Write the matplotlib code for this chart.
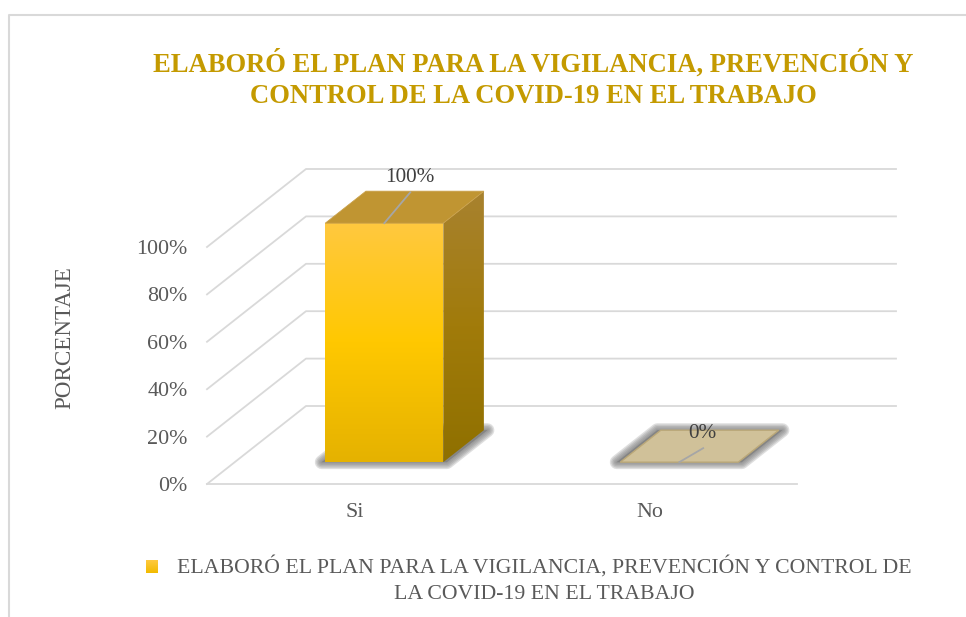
import numpy as np
import matplotlib
matplotlib.use("Agg")
from matplotlib import pyplot as plt
from matplotlib.colors import LinearSegmentedColormap
from matplotlib.patches import Polygon

categories = ["Si", "No"]
values = [100, 0]
y_ticks = [0, 20, 40, 60, 80, 100]
y_tick_labels = ["0%", "20%", "40%", "60%", "80%", "100%"]
title = "ELABORÓ EL PLAN PARA LA VIGILANCIA, PREVENCIÓN Y\nCONTROL DE LA COVID-19 EN EL TRABAJO"
legend_label = "ELABORÓ EL PLAN PARA LA VIGILANCIA, PREVENCIÓN Y CONTROL DE\nLA COVID-19 EN EL TRABAJO"
y_label = "PORCENTAJE"

W, H = 966, 617
SERIF = "Liberation Serif"
GREY = "#595959"

plt.rcParams["font.family"] = SERIF

fig = plt.figure(figsize=(W / 100, H / 100), dpi=100)

# the axes is the front plane of the 3d box, depth goes up and to the right
ax = fig.add_axes([207 / W, 1 - 484 / H, 590 / W, 237 / H])
ax.set_xlim(-0.5, 1.5)
ax.set_ylim(0, 100)
ax.set_autoscale_on(False)
ax.patch.set_visible(False)
for s in ax.spines.values():
    s.set_visible(False)

DX = 99 / 295
DY = 78 / 2.37
BAR_W = 0.4
BAR_SHIFT = 0.007
BAR_SCALE = 239 / 237
D0, D1 = 0.28, 0.69


def proj(x, y, d):
    return x + d * DX, y + d * DY


def gradient(poly, colors, z):
    xs = [p[0] for p in poly]
    ys = [p[1] for p in poly]
    cmap = LinearSegmentedColormap.from_list("g", colors)
    im = ax.imshow(np.linspace(0, 1, 256).reshape(-1, 1), cmap=cmap, aspect="auto",
                   origin="upper", extent=(min(xs), max(xs), min(ys), max(ys)), zorder=z)
    clip = Polygon(poly, closed=True, transform=ax.transData)
    im.set_clip_box(fig.bbox)
    im.set_clip_path(clip)


def floor_quad(x, pad=0.0):
    left, right = x - BAR_W / 2 - pad, x + BAR_W / 2 + pad
    return [proj(left, 0, D0), proj(right, 0, D0), proj(right, 0, D1), proj(left, 0, D1)]


# grid
for v in y_ticks:
    a, b, c = proj(-0.5, v, 0), proj(-0.5, v, 1), proj(1.5, v, 1)
    ax.plot([a[0], b[0], c[0]], [a[1], b[1], c[1]], color="#D9D9D9", lw=1.3,
            clip_on=False, zorder=1)
ax.plot([-0.5, 1.5], [0, 0], color="#D9D9D9", lw=1.3, clip_on=False, zorder=1)

for i, (cat, val) in enumerate(zip(categories, values)):
    cx = i + BAR_SHIFT
    # soft shadow on the floor
    for lw in [10, 8, 6, 4, 2]:
        ax.add_patch(Polygon(floor_quad(cx, 0.012), closed=True, fc="#7F7F7F", ec="#7F7F7F",
                             lw=lw, alpha=0.25, joinstyle="round", clip_on=False, zorder=2))
    l, r = cx - BAR_W / 2, cx + BAR_W / 2
    h = val * BAR_SCALE
    if val > 0:
        front = [proj(l, 0, D0), proj(r, 0, D0), proj(r, h, D0), proj(l, h, D0)]
        side = [proj(r, 0, D0), proj(r, 0, D1), proj(r, h, D1), proj(r, h, D0)]
        top = [proj(l, h, D0), proj(r, h, D0), proj(r, h, D1), proj(l, h, D1)]
        gradient(side, ["#A8822F", "#A17B0A", "#8F7000"], 3)
        gradient(front, ["#FFC93F", "#FFC800", "#E5B200"], 4)
        ax.add_patch(Polygon(top, closed=True, fc="#C09532", ec="#C9A04A", lw=0.6,
                             clip_on=False, zorder=4))
        # leader goes to the back of the top face
        lead = (0.088, 13)
    else:
        ax.add_patch(Polygon(floor_quad(cx), closed=True, fc="#D0C199", ec="#BBA878", lw=1,
                             clip_on=False, zorder=4))
        lead = (0.081, 5.9)

    # leader line and value label
    start = proj(cx, h, D0)
    end = (start[0] + lead[0], start[1] + lead[1])
    ax.plot([start[0], end[0]], [start[1], end[1]], color="#A6A6A6", lw=1.3,
            clip_on=False, zorder=5)
    ax.text(end[0] - 0.003, end[1] + 2.3, f"{val}%", ha="center", va="bottom", fontsize=15.3,
            color="#404040", clip_on=False, zorder=6)

ax.set_xticks(range(len(categories)))
ax.set_xticklabels(categories)
ax.set_yticks(y_ticks)
ax.set_yticklabels(y_tick_labels)
ax.tick_params(axis="y", length=0, pad=14, labelsize=15.8, labelcolor=GREY)
ax.tick_params(axis="x", length=0, pad=13.5, labelsize=15.8, labelcolor=GREY)

fig.text(65 / W, 1 - 338 / H, y_label, rotation=90, ha="center", va="center",
         fontsize=16.6, color=GREY)

fig.text(533 / W, 1 - 79.5 / H, title, ha="center", va="center", fontsize=19.15,
         fontweight="bold", color="#C49A00", linespacing=1.32)

# legend
key = fig.add_axes([146 / W, 1 - 573 / H, 12 / W, 13 / H])
key.imshow(np.linspace(0, 1, 32).reshape(-1, 1), aspect="auto",
           cmap=LinearSegmentedColormap.from_list("k", ["#FFC93F", "#F2BB00"]))
key.axis("off")
fig.text(544 / W, 1 - 579.5 / H, legend_label, ha="center", va="center", fontsize=15.7,
         color=GREY, linespacing=1.52)

# chart frame, open at right and bottom edge of the crop
fig.add_artist(plt.Line2D([9 / W, 9 / W, 1], [0, 1 - 14.5 / H, 1 - 14.5 / H],
                          color="#D9D9D9", lw=1.5))

fig.savefig("out.png", dpi=100)
